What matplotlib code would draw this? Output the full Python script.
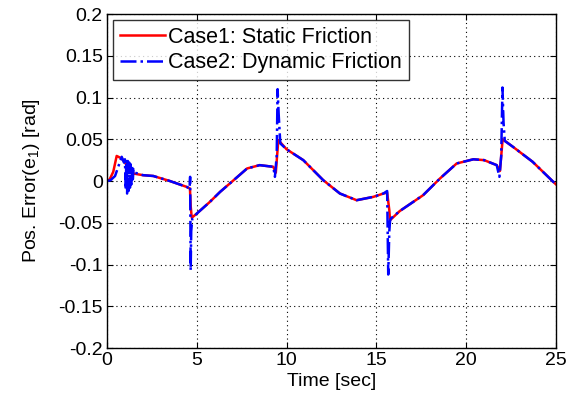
import matplotlib
matplotlib.use("Agg")
import matplotlib.pyplot as plt

plt.rcParams['font.family'] = ['Liberation Sans', 'DejaVu Sans']
plt.rcParams['mathtext.default'] = 'regular'

# Case 1: static friction (time [s], error [rad])
t1 = [0.0, 0.15, 0.35, 0.54, 0.82, 1.1, 1.46, 2.0, 2.58, 3.5, 4.43, 4.62, 4.66, 4.72, 5.0, 5.73, 6.3, 7.0, 7.8,
      8.5, 9.26, 9.4, 9.54, 10.0, 10.93, 12.04, 12.97, 13.9, 14.83, 15.39, 15.6, 15.72, 15.76, 16.3, 17.6, 18.54,
      19.47, 20.4, 21.0, 21.7, 21.88, 22.03, 22.6, 23.7, 24.85, 25.0]
e1 = [0.0, 0.002, 0.011, 0.030, 0.027, 0.019, 0.009, 0.007, 0.006, 0.000, -0.007, -0.009, -0.030, -0.044, -0.039,
      -0.025, -0.013, 0.000, 0.015, 0.019, 0.017, 0.010, 0.049, 0.038, 0.025, 0.001, -0.015, -0.023, -0.019, -0.015,
      -0.014, -0.035, -0.047, -0.036, -0.017, 0.003, 0.021, 0.026, 0.025, 0.019, 0.012, 0.050, 0.041, 0.023, -0.001,
      -0.004]

# Case 2: dynamic friction (time [s], error [rad])
t2 = [0.0, 0.2, 0.45, 0.82, 0.95, 1.0, 1.04, 1.08, 1.12, 1.16, 1.2, 1.24, 1.28, 1.32, 1.36, 1.4, 1.44, 1.48,
      1.56, 2.0, 2.58, 3.5, 4.43, 4.6, 4.63, 4.66, 4.69, 4.75, 5.0, 5.73, 6.3, 7.0, 7.8, 8.5, 9.26, 9.35, 9.45,
      9.5, 9.56, 9.65, 10.0, 10.93, 12.04, 12.97, 13.9, 14.83, 15.39, 15.6, 15.66, 15.72, 15.76, 15.8, 16.3, 17.6,
      18.54, 19.47, 20.4, 21.0, 21.7, 21.85, 21.95, 22.02, 22.08, 22.15, 22.6, 23.7, 24.85, 25.0]
e2 = [0.0, 0.001, 0.006, 0.029, 0.022, 0.026, -0.010, 0.025, -0.015, 0.024, -0.012, 0.022, -0.008, 0.020,
      -0.004, 0.018, 0.002, 0.014, 0.010, 0.007, 0.006, 0.000, -0.007, -0.009, 0.005, -0.107, -0.060, -0.045,
      -0.039, -0.025, -0.013, 0.000, 0.015, 0.019, 0.017, 0.005, 0.030, 0.110, 0.080, 0.045, 0.038, 0.025, 0.001,
      -0.015, -0.023, -0.019, -0.015, -0.012, -0.112, -0.060, -0.048, -0.045, -0.036, -0.017, 0.003, 0.021, 0.026,
      0.025, 0.019, 0.005, 0.030, 0.112, 0.070, 0.048, 0.041, 0.023, -0.001, -0.004]

x_ticks = [0, 5, 10, 15, 20, 25]
y_ticks = [-0.2, -0.15, -0.1, -0.05, 0, 0.05, 0.1, 0.15, 0.2]
y_tick_labels = ['-0.2', '-0.15', '-0.1', '-0.05', '0', '0.05', '0.1', '0.15', '0.2']

fig = plt.figure(figsize=(5.73, 3.99), dpi=100)
ax = fig.add_axes([0.1867, 0.1278, 0.7836, 0.8371])

ax.plot(t1, e1, color='#ff0000', lw=1.8, label='Case1: Static Friction')
ax.plot(t2, e2, color='#0000ff', lw=1.8, ls='-.', label='Case2: Dynamic Friction')

ax.set_xlim(0, 25)
ax.set_ylim(-0.2, 0.2)
ax.set_xticks(x_ticks)
ax.set_yticks(y_ticks)
ax.set_yticklabels(y_tick_labels)
ax.tick_params(direction='in', top=True, right=True, labelsize=14, length=4, pad=3)
ax.grid(True, color='black', linestyle=(0, (1, 3)), linewidth=0.8)
for s in ax.spines.values():
    s.set_linewidth(1.0)

ax.set_xlabel('Time [sec]', fontsize=14, labelpad=3)
ax.set_ylabel('Pos. Error(e$_1$) [rad]', fontsize=14, labelpad=12)

leg = ax.legend(loc='upper left', fontsize=15.5, frameon=True, fancybox=False, borderaxespad=0.3,
                handlelength=2.1, handletextpad=0.15, borderpad=0.3, labelspacing=0.2)
leg.get_frame().set_edgecolor('black')
leg.get_frame().set_linewidth(1.0)

fig.savefig('out.png', dpi=100)
